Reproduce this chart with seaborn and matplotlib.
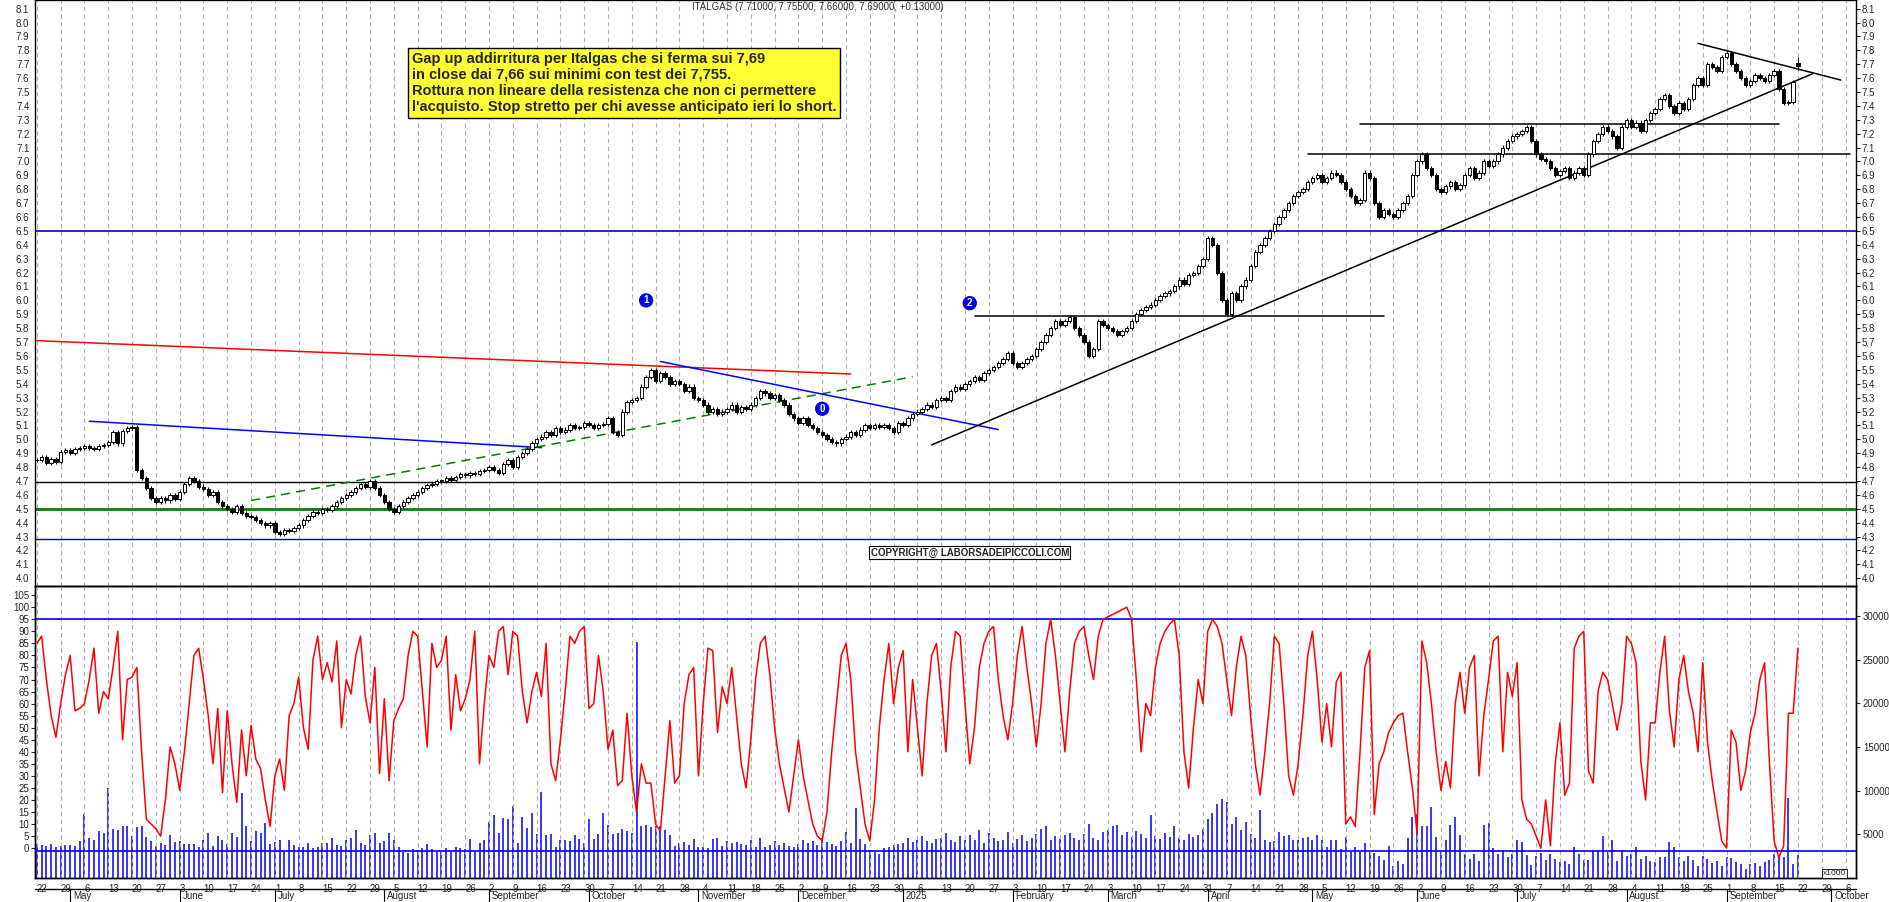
import numpy as np
import pandas as pd
import seaborn as sns
import matplotlib.pyplot as plt
from matplotlib.lines import Line2D
from matplotlib.transforms import blended_transform_factory

# daily closes, one row per week (Mon..Fri), from 2024-04-22
closes = [
    4.85, 4.87, 4.83, 4.86, 4.84, 4.91, 4.92, 4.90, 4.93, 4.94,
    4.95, 4.94, 4.93, 4.95, 4.96, 4.98, 5.05, 4.97, 5.06, 5.08,
    5.09, 4.78, 4.72, 4.65, 4.58, 4.55, 4.58, 4.56, 4.60, 4.57,
    4.62, 4.68, 4.72, 4.70, 4.66, 4.64, 4.60, 4.62, 4.55, 4.52,
    4.50, 4.48, 4.52, 4.47, 4.45, 4.44, 4.42, 4.40, 4.38, 4.40,
    4.33, 4.32, 4.35, 4.34, 4.36, 4.38, 4.42, 4.45, 4.48, 4.47,
    4.50, 4.49, 4.52, 4.55, 4.58, 4.60, 4.62, 4.65, 4.68, 4.66,
    4.70, 4.65, 4.60, 4.55, 4.50, 4.48, 4.52, 4.55, 4.58, 4.60,
    4.62, 4.65, 4.67, 4.68, 4.70, 4.70, 4.72, 4.71, 4.73, 4.75,
    4.74, 4.76, 4.75, 4.77, 4.78, 4.80, 4.78, 4.76, 4.82, 4.85,
    4.80, 4.87, 4.90, 4.93, 4.97, 5.00, 5.02, 5.05, 5.03, 5.08,
    5.05, 5.07, 5.10, 5.08, 5.09, 5.12, 5.10, 5.08, 5.10, 5.11,
    5.15, 5.05, 5.03, 5.20, 5.27, 5.28, 5.30, 5.38, 5.45, 5.50,
    5.42, 5.48, 5.45, 5.40, 5.42, 5.40, 5.35, 5.38, 5.30, 5.28,
    5.25, 5.20, 5.22, 5.18, 5.20, 5.22, 5.25, 5.20, 5.23, 5.22,
    5.25, 5.30, 5.35, 5.33, 5.30, 5.32, 5.28, 5.25, 5.18, 5.15,
    5.12, 5.15, 5.10, 5.08, 5.05, 5.03, 5.00, 4.98, 4.97, 5.00,
    5.02, 5.05, 5.03, 5.07, 5.10, 5.08, 5.10, 5.09, 5.10, 5.08,
    5.05, 5.12, 5.10, 5.15, 5.18, 5.20, 5.22, 5.25, 5.23, 5.28,
    5.30, 5.28, 5.35, 5.38, 5.36, 5.40, 5.42, 5.45, 5.43, 5.48,
    5.50, 5.52, 5.55, 5.58, 5.62, 5.55, 5.52, 5.55, 5.58, 5.60,
    5.65, 5.70, 5.75, 5.80, 5.85, 5.82, 5.85, 5.88, 5.80, 5.75,
    5.70, 5.60, 5.65, 5.85, 5.82, 5.80, 5.78, 5.75, 5.78, 5.80,
    5.85, 5.90, 5.93, 5.95, 5.97, 6.00, 6.03, 6.05, 6.07, 6.10,
    6.15, 6.12, 6.18, 6.20, 6.25, 6.30, 6.45, 6.40, 6.20, 6.00,
    5.90, 6.05, 6.00, 6.10, 6.15, 6.25, 6.35, 6.40, 6.45, 6.50,
    6.55, 6.60, 6.65, 6.70, 6.75, 6.78, 6.80, 6.85, 6.88, 6.90,
    6.85, 6.88, 6.92, 6.90, 6.85, 6.80, 6.75, 6.70, 6.72, 6.92,
    6.88, 6.70, 6.60, 6.65, 6.62, 6.60, 6.65, 6.70, 6.75, 6.90,
    7.00, 7.05, 6.95, 6.90, 6.80, 6.78, 6.82, 6.85, 6.80, 6.83,
    6.90, 6.95, 6.88, 6.92, 7.00, 6.97, 7.00, 7.05, 7.10, 7.15,
    7.18, 7.20, 7.22, 7.25, 7.15, 7.05, 7.02, 7.00, 6.95, 6.90,
    6.93, 6.95, 6.88, 6.92, 6.95, 6.90, 7.05, 7.15, 7.20, 7.25,
    7.22, 7.18, 7.10, 7.25, 7.30, 7.25, 7.28, 7.22, 7.30, 7.35,
    7.38, 7.45, 7.48, 7.40, 7.35, 7.42, 7.38, 7.45, 7.55, 7.60,
    7.55, 7.70, 7.68, 7.65, 7.75, 7.78, 7.70, 7.65, 7.60, 7.55,
    7.58, 7.62, 7.60, 7.58, 7.62, 7.65, 7.52, 7.42, 7.43, 7.57,
    7.69,
]
last_open = 7.71
last_high = 7.755
last_low = 7.66

oscillator = [
    85, 88, 70, 55, 46, 60, 72, 80, 57, 58,
    60, 70, 83, 56, 65, 62, 75, 90, 45, 70,
    71, 75, 40, 12, 10, 8, 5, 20, 42, 35,
    24, 40, 60, 80, 83, 70, 55, 35, 58, 23,
    57, 35, 19, 49, 30, 51, 37, 33, 20, 9,
    30, 37, 24, 55, 60, 71, 50, 41, 78, 88,
    70, 77, 69, 86, 50, 70, 64, 80, 88, 63,
    52, 75, 31, 62, 28, 53, 58, 62, 80, 90,
    88, 65, 42, 85, 75, 78, 88, 49, 72, 57,
    62, 70, 90, 35, 60, 80, 75, 90, 92, 72,
    90, 88, 65, 52, 65, 73, 63, 85, 35, 28,
    45, 65, 88, 85, 90, 92, 58, 60, 80, 65,
    41, 49, 26, 28, 56, 30, 15, 35, 27, 27,
    10, 7, 30, 53, 27, 30, 60, 72, 75, 30,
    60, 83, 82, 48, 67, 60, 75, 55, 35, 25,
    45, 70, 85, 88, 72, 50, 35, 25, 15, 30,
    45, 30, 20, 10, 5, 3, 15, 40, 60, 80,
    85, 70, 40, 25, 10, 3, 20, 50, 70, 85,
    60, 75, 82, 40, 70, 50, 30, 60, 80, 85,
    65, 40, 75, 90, 88, 60, 35, 50, 75, 85,
    90, 92, 70, 55, 45, 60, 80, 92, 75, 60,
    42, 60, 85, 95, 80, 60, 40, 65, 85, 90,
    92, 80, 70, 88, 95, 96, 97, 98, 99, 100,
    95, 70, 40, 60, 55, 75, 85, 90, 93, 95,
    80, 40, 25, 50, 70, 60, 90, 95, 92, 85,
    70, 55, 75, 88, 80, 55, 35, 22, 40, 60,
    88, 85, 60, 30, 22, 35, 55, 80, 90, 70,
    44, 60, 42, 69, 73, 10, 13, 9, 40, 75,
    82, 14, 35, 40, 48, 52, 55, 56, 40, 25,
    6, 86, 77, 60, 40, 24, 36, 25, 60, 73,
    56, 75, 80, 30, 55, 70, 86, 88, 40, 73,
    63, 77, 20, 12, 10, 5, 0, 20, 1, 35,
    52, 22, 27, 83, 88, 90, 32, 27, 65, 73,
    70, 60, 49, 60, 88, 85, 77, 36, 20, 52,
    52, 73, 88, 57, 42, 70, 80, 65, 56, 40,
    77, 44, 28, 15, 3, 0, 49, 44, 24, 32,
    48, 56, 70, 77, 36, 3, -4, 1, 56, 56,
    83,
]

volume_k = [
    3.9, 3.8, 3.7, 3.9, 3.6, 3.7, 3.8, 3.8, 3.7, 4.2,
    7.3, 4.6, 4.4, 5.4, 5.2, 10.3, 5.6, 5.5, 6.0, 6.0,
    4.8, 5.8, 6.0, 4.7, 4.2, 3.7, 4.0, 3.8, 4.9, 4.1,
    4.2, 3.9, 3.9, 3.9, 3.6, 4.4, 5.2, 3.7, 4.8, 4.3,
    3.9, 5.1, 4.7, 9.7, 5.9, 4.2, 5.4, 5.2, 6.3, 3.9,
    4.1, 4.4, 3.1, 4.4, 3.8, 3.6, 3.6, 4.0, 3.4, 3.6,
    4.0, 4.0, 4.6, 3.8, 3.7, 4.3, 4.6, 5.5, 4.0, 3.8,
    4.9, 5.1, 4.0, 4.2, 5.2, 4.3, 3.6, 3.0, 2.9, 3.3,
    3.2, 3.4, 3.9, 3.3, 3.0, 3.0, 3.4, 3.0, 3.5, 3.4,
    3.3, 4.5, 3.0, 4.0, 4.3, 6.4, 7.2, 5.2, 6.9, 6.8,
    8.3, 4.0, 7.0, 5.7, 7.4, 5.0, 9.9, 4.9, 5.0, 3.5,
    4.3, 4.3, 4.2, 4.9, 4.5, 4.0, 6.7, 4.5, 5.0, 7.4,
    6.1, 5.0, 5.1, 5.6, 5.4, 5.1, 27.0, 5.9, 6.1, 5.8,
    6.0, 6.0, 5.5, 4.9, 3.7, 4.0, 4.1, 3.8, 4.5, 3.5,
    3.5, 3.4, 4.5, 4.6, 3.7, 4.2, 4.0, 4.1, 3.9, 3.8,
    4.4, 3.5, 4.6, 3.6, 3.8, 4.2, 3.8, 4.0, 3.7, 3.5,
    3.9, 4.4, 4.0, 4.2, 3.8, 4.6, 4.1, 3.9, 3.7, 4.2,
    5.3, 4.0, 8.0, 4.5, 3.9, 3.2, 3.0, 2.8, 3.4, 3.6,
    3.8, 3.9, 4.0, 4.6, 4.1, 4.3, 4.8, 4.2, 4.0, 4.5,
    4.6, 5.2, 4.4, 4.1, 4.8, 4.4, 4.9, 4.3, 5.5, 4.0,
    5.1, 4.6, 4.2, 4.4, 5.3, 4.0, 4.5, 4.9, 4.2, 4.6,
    5.0, 5.6, 6.0, 4.4, 4.8, 4.5, 4.9, 5.2, 4.6, 4.3,
    5.0, 6.2, 4.6, 4.4, 5.3, 5.5, 5.9, 6.1, 4.9, 5.3,
    4.7, 5.4, 5.0, 4.6, 7.2, 4.8, 4.5, 5.2, 4.7, 5.9,
    4.6, 4.4, 5.0, 4.7, 4.9, 5.6, 6.8, 7.4, 8.5, 9.0,
    8.7, 6.2, 7.0, 5.5, 6.4, 5.0, 4.6, 7.8, 4.4, 4.1,
    4.2, 5.3, 4.8, 4.9, 4.4, 4.3, 4.6, 4.7, 4.4, 4.9,
    4.4, 3.6, 4.4, 4.3, 3.3, 4.7, 3.0, 3.5, 3.0, 4.0,
    3.0, 2.9, 2.5, 2.1, 3.7, 1.4, 2.0, 1.6, 4.6, 7.0,
    7.3, 5.9, 5.9, 8.1, 4.7, 3.0, 4.4, 6.1, 7.0, 4.9,
    2.7, 2.2, 2.7, 1.9, 6.1, 6.3, 3.4, 2.7, 3.2, 2.4,
    2.8, 4.3, 4.1, 2.6, 1.5, 2.5, 2.9, 2.1, 2.7, 2.2,
    1.8, 2.0, 1.6, 3.6, 2.7, 2.1, 2.1, 3.1, 3.2, 4.8,
    3.0, 4.3, 1.9, 3.2, 2.5, 2.8, 3.6, 2.2, 2.5, 1.9,
    1.8, 2.4, 2.4, 4.1, 3.6, 2.4, 2.0, 2.5, 2.1, 1.4,
    2.5, 2.2, 1.7, 1.9, 1.4, 2.4, 2.3, 1.8, 1.6, 1.0,
    1.6, 1.7, 1.4, 1.8, 2.1, 2.8, 2.6, 2.4, 9.2, 1.6,
    2.6,
]

note_lines = [
    "Gap up addirritura per Italgas che si ferma sui 7,69",
    "in close dai 7,66 sui minimi con test dei 7,755.",
    "Rottura non lineare della resistenza che non ci permettere",
    "l'acquisto. Stop stretto per chi avesse anticipato ieri lo short.",
]

n = len(closes)
dates = pd.bdate_range("2024-04-22", periods=n + 12)
df = pd.DataFrame({"close": closes, "osc": oscillator, "vol": volume_k})
df["idx"] = np.arange(n)
df["open"] = df["close"].shift(1).fillna(df["close"].iloc[0])
df.loc[n - 1, "open"] = last_open

sns.set_style("white")
plt.rcParams["font.family"] = "Liberation Sans"
fig = plt.figure(figsize=(18.9, 9.02), dpi=100)
ax = fig.add_axes([0.0185, 0.350, 0.9635, 0.650])
axo = fig.add_axes([0.0185, 0.0266, 0.9635, 0.3234], sharex=ax)
axv = axo.twinx()

xmax = 382.2
ax.set_xlim(-0.4, xmax)
ax.set_ylim(3.942, 8.162)
axo.set_ylim(-12.4, 108.7)
axv.set_ylim(0, 33.4)

mondays = [i for i, d in enumerate(dates) if d.weekday() == 0]
for a in (ax, axo):
    for m in mondays:
        a.axvline(m, color="#b0b0b0", ls=(0, (4, 3)), lw=0.8, zorder=0)

# candles
for _, r in df.iterrows():
    o, c, i = r["open"], r["close"], r["idx"]
    hi = max(o, c) + 0.015
    lo = min(o, c) - 0.015
    if i == n - 1:
        hi, lo = last_high, last_low
    ax.vlines(i, lo, hi, color="black", lw=0.8, zorder=3)
    body = max(abs(c - o), 0.004)
    ax.add_patch(plt.Rectangle((i - 0.35, min(o, c)), 0.7, body,
                               facecolor="white" if c >= o else "black",
                               edgecolor="black", lw=0.7, zorder=4))

# horizontal levels
ax.axhline(6.5, color="#0000cc", lw=1.2)
ax.axhline(4.5, color="#008000", lw=2)
ax.axhline(4.69, color="black", lw=1)
ax.axhline(4.28, color="#0000cc", lw=1)

# trend lines (index, price)
segs = [
    ((0, 5.71), (171, 5.47), "red", "-"),
    ((11, 5.13), (106, 4.94), "#0000ff", "-"),
    ((45, 4.56), (184, 5.45), "#008000", (0, (6, 4))),
    ((131, 5.56), (202, 5.07), "#0000ff", "-"),
    ((197, 5.89), (283, 5.89), "black", "-"),
    ((188, 4.96), (373, 7.63), "black", "-"),
    ((267, 7.05), (381, 7.05), "black", "-"),
    ((278, 7.27), (366, 7.27), "black", "-"),
    ((349, 7.85), (379, 7.586), "black", "-"),
]
for p0, p1, col, ls in segs:
    ax.plot([p0[0], p1[0]], [p0[1], p1[1]], color=col, ls=ls, lw=1.1, zorder=2)

for lab, xi, yv in [("1", 128, 6.0), ("0", 165, 5.22), ("2", 196, 5.98)]:
    ax.text(xi, yv, lab, ha="center", va="center", fontsize=7, color="white",
            fontweight="bold",
            bbox=dict(boxstyle="circle,pad=0.15", fc="#0000ee", ec="#0000ee"))

ax.text(0.2068, 0.912, "\n".join(note_lines), transform=ax.transAxes,
        fontsize=10.5, fontweight="bold", va="top", ha="left",
        fontfamily="Liberation Sans", linespacing=1.2,
        bbox=dict(boxstyle="square,pad=0.25", fc="#ffff33", ec="black", lw=1))
ax.text(196, 4.185, "COPYRIGHT@ LABORSADEIPICCOLI.COM", fontsize=7,
        fontweight="bold", ha="center", va="center",
        bbox=dict(boxstyle="square,pad=0.15", fc="white", ec="black", lw=0.8))
ax.text(0.43, 0.997, "ITALGAS (7.71000, 7.75500, 7.66000, 7.69000, +0.13000)",
        transform=ax.transAxes, fontsize=7, va="top", ha="center", color="#333333")

# oscillator + volume
axo.axhline(95, color="#0000ee", lw=1.2)
axo.axhline(-1.2, color="#0000ee", lw=1.2, zorder=5)
axv.vlines(df["idx"], 0, df["vol"], color="#0000ff", lw=1.1, zorder=2)
sns.lineplot(data=df, x="idx", y="osc", ax=axo, color="red", lw=1.1, zorder=4)
axo.set_zorder(axv.get_zorder() + 1)
axo.patch.set_visible(False)

# ticks
pt = np.round(np.arange(4.0, 8.11, 0.1), 1)
ax.set_yticks(pt)
ax.set_yticklabels([f"{v:.1f}" for v in pt])
ax.tick_params(axis="y", labelsize=7, length=3, pad=1, labelright=True, right=True)
ax.tick_params(axis="x", bottom=False, labelbottom=False)
ot = np.arange(0, 106, 5)
axo.set_yticks(ot)
axo.tick_params(axis="y", labelsize=7, length=3, pad=1)
axo.set_ylabel("")
axo.set_xlabel("")
axv.set_yticks([5, 10, 15, 20, 25, 30])
axv.set_yticklabels(["5000", "10000", "15000", "20000", "25000", "30000"])
axv.tick_params(axis="y", labelsize=7, length=3, pad=2)
axo.set_xticks(mondays)
axo.set_xticklabels([str(dates[m].day) for m in mondays])
axo.tick_params(axis="x", labelsize=7, length=3, pad=1)
for lab in axo.get_xticklabels():
    lab.set_horizontalalignment("left")
for a in (ax, axo, axv):
    for s in a.spines.values():
        s.set_color("black")
        s.set_linewidth(1)

# month row
tr = blended_transform_factory(axo.transData, fig.transFigure)
fig.add_artist(Line2D([0.0185, 0.982], [13 / 902, 13 / 902], color="black", lw=1))
starts = [i for i in range(1, len(dates)) if dates[i].month != dates[i - 1].month]
for i in starts:
    d = dates[i]
    name = "2025" if (d.month == 1) else d.strftime("%B")
    if i > xmax:
        continue
    axo.add_artist(Line2D([i, i], [0, 13 / 902], transform=tr, color="black",
                          lw=0.8, clip_on=False))
    axo.text(i + 0.6, 6 / 902, name, transform=tr, fontsize=7, va="center",
             ha="left")
axo.text(0.982, 0.003, "x1000", transform=axo.transAxes, fontsize=6,
         ha="left", va="bottom",
         bbox=dict(boxstyle="square,pad=0.1", fc="white", ec="black", lw=0.6))

fig.savefig("out.png", dpi=100)
